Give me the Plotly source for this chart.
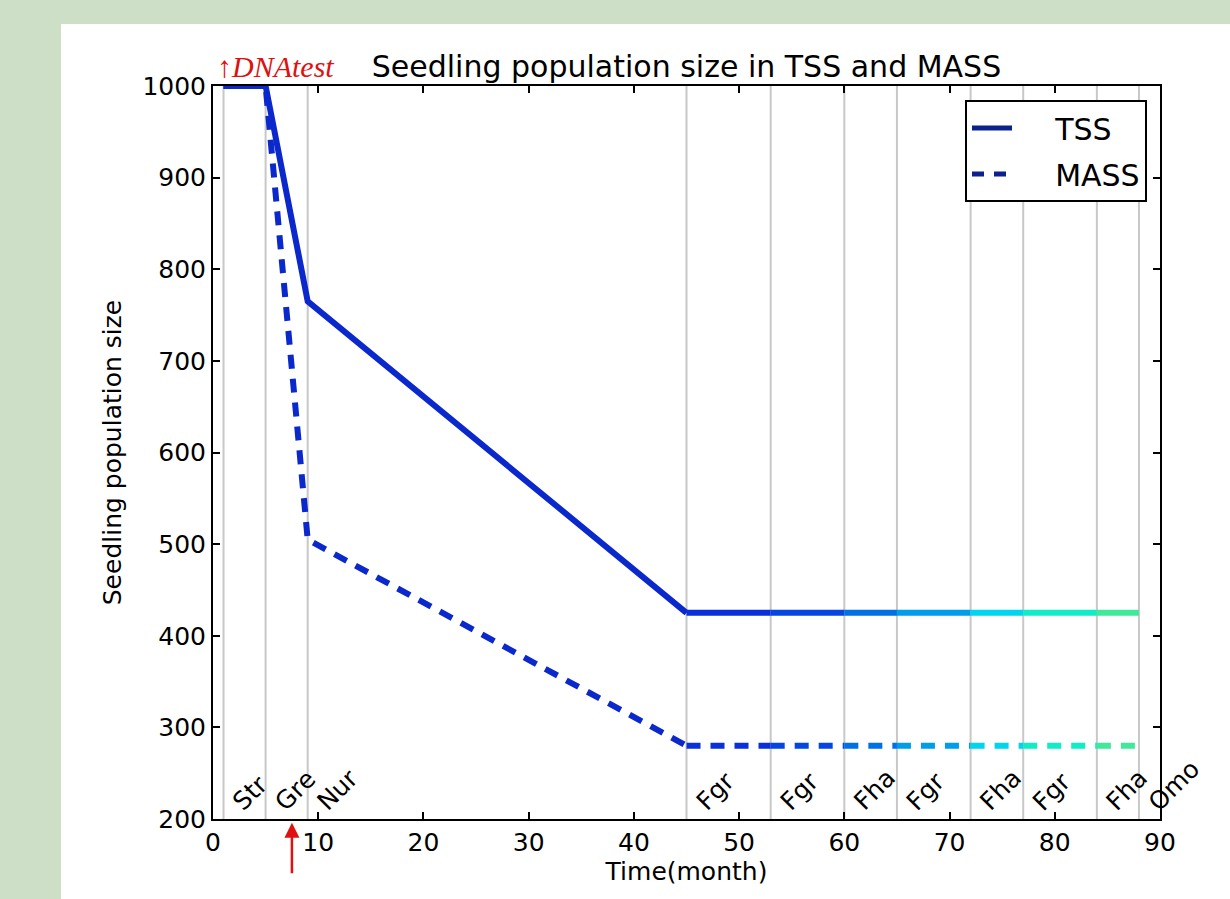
import plotly.graph_objects as go

# ---------------- data ----------------
tss_x = [1, 5, 9, 45]
tss_y = [1000, 1000, 765, 425]
mass_x = [1, 5, 9, 45]
mass_y = [1000, 1000, 505, 280]

stage_start = [1, 5, 9, 45, 53, 60, 65, 72, 77, 84, 88]
stage_names = ["Str", "Gre", "Nur", "Fgr", "Fgr", "Fha", "Fgr", "Fha", "Fgr", "Fha", "Omo"]

plateau_tss = 425
plateau_mass = 280
plateau_colors = ["#0a30dc", "#0546e2", "#0070e6", "#009eea", "#00d4ee", "#12ecc6", "#40e89a"]

x_ticks = [0, 10, 20, 30, 40, 50, 60, 70, 80, 90]
y_ticks = [200, 300, 400, 500, 600, 700, 800, 900, 1000]
dna_test_month = 7.5

early_color = "#0a28cc"
legend_color = "#0c2090"

# ---------------- layout geometry ----------------
W, H = 1230, 899
L, R, T, B = 213, 1160, 86, 819

fig = go.Figure()

# stage boundary lines
for s in stage_start:
    fig.add_shape(type="line", x0=s, x1=s, y0=200, y1=1000, xref="x", yref="y",
                  line=dict(color="#c8c8c8", width=2), layer="below")

# early segments
fig.add_trace(go.Scatter(x=tss_x, y=tss_y, mode="lines", showlegend=False,
                         line=dict(color=early_color, width=6)))
fig.add_trace(go.Scatter(x=mass_x, y=mass_y, mode="lines", showlegend=False,
                         line=dict(color=early_color, width=6, dash="14px,10px")))

# plateau segments with colour gradient
seg_edges = stage_start[3:]
for i in range(len(seg_edges) - 1):
    c = plateau_colors[i]
    fig.add_trace(go.Scatter(x=[seg_edges[i], seg_edges[i + 1]], y=[plateau_tss, plateau_tss],
                             mode="lines", showlegend=False, line=dict(color=c, width=6)))
    fig.add_trace(go.Scatter(x=[seg_edges[i], seg_edges[i + 1]], y=[plateau_mass, plateau_mass],
                             mode="lines", showlegend=False,
                             line=dict(color=c, width=6, dash="14px,10px")))

# legend entries
NB = "\u00a0"
fig.add_trace(go.Scatter(x=[None], y=[None], mode="lines", name=NB * 4 + "TSS", legendgroup="a",
                         line=dict(color=legend_color, width=5)))
fig.add_trace(go.Scatter(x=[None], y=[None], mode="lines", name=NB * 4 + "MASS", legendgroup="b",
                         line=dict(color=legend_color, width=5, dash="12px,10px")))

# stage labels
for s, name in zip(stage_start, stage_names):
    fig.add_annotation(x=s, y=200, xref="x", yref="y", text=name, showarrow=False,
                       textangle=-45, xanchor="left", yanchor="bottom", xshift=1, yshift=0,
                       font=dict(family="DejaVu Sans", size=25, color="black"))

# DNA test text and arrow
fig.add_annotation(x=0.0, y=1000, xref="x", yref="y", text="↑<i>DNAtest</i>", showarrow=False,
                   xanchor="left", yanchor="bottom", xshift=2, yshift=1,
                   font=dict(family="Liberation Serif", size=30, color="#e01010"))
fig.add_annotation(x=dna_test_month, y=-0.005, xref="x", yref="paper", text="", showarrow=True,
                   ax=0, ay=52, axref="pixel", ayref="pixel",
                   arrowcolor="#e01010", arrowwidth=2.5, arrowhead=2, arrowsize=1.2)

# white panel
fig.add_shape(type="rect", xref="paper", yref="paper",
              x0=(61 - L) / (R - L), x1=(W + 5 - L) / (R - L),
              y0=(B - (H + 5)) / (B - T), y1=(B - 24) / (B - T),
              fillcolor="white", line=dict(width=0), layer="below")

axis_common = dict(showline=True, linecolor="black", linewidth=2, mirror="ticks",
                   ticks="inside", ticklen=7, tickwidth=1.5, tickcolor="black",
                   showgrid=False, zeroline=False,
                   tickfont=dict(family="DejaVu Sans", size=25, color="black"))

fig.update_layout(
    width=W, height=H,
    margin=dict(l=L, r=W - R, t=T, b=H - B, pad=0),
    paper_bgcolor="#cddfc6",
    plot_bgcolor="white",
    title=dict(text="Seedling population size in TSS and MASS", x=(L + R) / 2 / W, xanchor="center",
               y=1 - 66 / H, yanchor="middle",
               font=dict(family="DejaVu Sans", size=30, color="black")),
    xaxis=dict(range=[0, 90], tickvals=x_ticks, ticktext=[str(v) for v in x_ticks],
               title=dict(text="Time(month)", font=dict(family="DejaVu Sans", size=25, color="black"),
                          standoff=4),
               **axis_common),
    yaxis=dict(range=[200, 1000], tickvals=y_ticks, ticktext=[str(v) for v in y_ticks],
               title=dict(text="Seedling population size",
                          font=dict(family="DejaVu Sans", size=25, color="black"), standoff=14),
               **axis_common),
    legend=dict(x=(1147 - L) / (R - L), y=(B - 100) / (B - T), xanchor="right", yanchor="top",
                bgcolor="white", bordercolor="black", borderwidth=2,
                font=dict(family="DejaVu Sans", size=30, color="black"),
                tracegroupgap=4, itemwidth=40),
)

fig.write_html("out.html", config={"displayModeBar": False},
               post_script="document.body.style.margin='0';document.body.style.overflow='hidden';")
